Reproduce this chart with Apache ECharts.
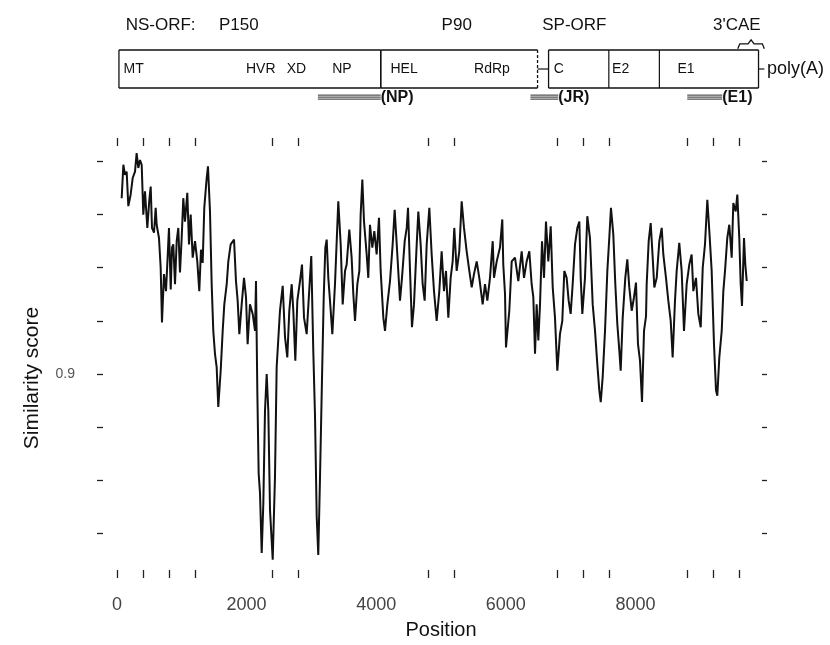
<!DOCTYPE html>
<html><head><meta charset="utf-8">
<script src="https://cdn.jsdelivr.net/npm/echarts@6/dist/echarts.min.js"></script>
<style>html,body{margin:0;padding:0;background:#fff}#c{width:830px;height:645px}</style>
</head><body><div id="c"></div>
<script>
// ---------- similarity plot data ----------
const positions = [72,98,123,149,175,211,242,278,303,329,355,381,406,432,468,499,520,540,571,597,612,648,674,694,725,756,776,802,829,849,869,895,921,946,972,998,1023,1049,1085,1111,1137,1168,1204,1239,1270,1296,1322,1347,1384,1404,1435,1461,1486,1512,1538,1563,1600,1631,1656,1693,1718,1754,1806,1836,1862,1888,1924,1960,1991,2016,2052,2094,2130,2145,2166,2186,2207,2233,2258,2284,2310,2335,2361,2403,2438,2464,2515,2557,2593,2628,2659,2696,2721,2752,2783,2824,2855,2886,2927,2963,2998,3029,3056,3082,3106,3133,3164,3190,3215,3236,
3261,3287,3323,3364,3415,3452,3483,3519,3544,3585,3621,3647,3673,3709,3740,3760,3786,3812,3853,3878,3904,3940,3971,4007,4043,4069,4110,4136,4172,4213,4254,4285,4326,4367,4398,4440,4471,4491,4522,4552,4583,4625,4650,4686,4717,4748,4779,4820,4856,4892,4933,4974,5010,5046,5077,5113,5149,5180,5205,5242,5282,5319,5355,5396,5437,5474,5509,5551,5591,5643,5679,5715,5756,5798,5818,5860,5910,5946,5961,5988,6003,6054,6091,6142,6193,6245,6281,6322,6363,6399,6425,6451,
6476,6502,6528,6559,6590,6620,6656,6693,6724,6759,6795,6836,6872,6903,6939,6970,7001,7032,7068,7104,7135,7156,7181,7222,7258,7299,7341,7377,7412,7443,7465,7495,7531,7567,7597,7623,7659,7690,7721,7752,7773,7804,7844,7875,7906,7943,7978,8009,8040,8071,8102,8133,8164,8174,8205,8236,8267,8292,8329,8369,8406,8431,8472,8508,8545,8575,8611,8637,8677,8714,8750,8791,8832,8868,8894,8935,8971,9008,9039,9074,9110,9141,9177,9213,9244,9264,9295,9332,9357,9383,9418,9449,9486,9511,9548,9573,9603,9625,9645,9676,9696,9718];
const scores = [.9331,.9394,.9375,.9381,.9316,.9338,.9369,.9381,.9416,.9388,.9403,.9394,.9300,.9344,.9275,.9328,.9353,.9275,.9266,.9313,.9281,.9256,.9200,.9097,.9188,.9156,.9206,.9275,.9159,.9238,.9244,.9169,.9250,.9275,.9191,.9256,.9331,.9287,.9341,.9244,.9300,.9219,.9250,.9212,.9156,.9234,.9209,.9313,.9369,.9391,.9306,.9169,.9081,.9038,.9013,.8938,.9006,.9081,.9131,.9169,.9212,.9244,.9253,.9175,.9138,.9075,.9131,.9181,.9144,.9056,.9131,.9113,.9081,.9175,.8963,.8813,.8775,.8663,.8756,.8931,.9000,.8931,.8744,.8650,.8806,.9013,.9119,.9166,.9069,.9031,.9119,.9169,.9119,.9025,.9138,.9175,.9206,.9106,.9075,.9150,.9222,.9044,.8919,.8731,.8659,.8806,.8994,.9144,.9238,.9253,
.9181,.9138,.9075,.9169,.9325,.9244,.9131,.9194,.9206,.9272,.9219,.9150,.9100,.9169,.9194,.9300,.9366,.9287,.9225,.9181,.9281,.9238,.9269,.9225,.9294,.9194,.9106,.9081,.9131,.9175,.9244,.9309,.9225,.9138,.9181,.9250,.9275,.9313,.9194,.9088,.9131,.9244,.9306,.9244,.9169,.9138,.9244,.9313,.9225,.9156,.9100,.9156,.9231,.9156,.9194,.9106,.9181,.9212,.9275,.9194,.9231,.9325,.9275,.9231,.9194,.9163,.9188,.9212,.9181,.9131,.9169,.9138,.9181,.9250,.9181,.9212,.9238,.9291,.9206,.9150,.9050,.9119,.9212,.9219,.9175,.9231,.9181,.9212,.9231,.9169,.9144,.9038,
.9131,.9063,.9131,.9250,.9181,.9287,.9212,.9278,.9163,.9106,.9006,.9075,.9100,.9194,.9181,.9138,.9113,.9169,.9244,.9275,.9287,.9181,.9113,.9181,.9297,.9256,.9131,.9081,.9019,.8969,.8947,.8994,.9081,.9194,.9256,.9313,.9263,.9169,.9094,.9044,.9006,.9106,.9181,.9216,.9163,.9119,.9144,.9172,.9056,.9025,.8947,.9081,.9109,.9169,.9250,.9284,.9219,.9163,.9181,.9250,.9275,.9225,.9181,.9138,.9100,.9031,.9138,.9194,.9247,.9194,.9081,.9169,.9206,.9225,.9156,.9181,.9113,.9088,.9200,.9244,.9328,.9269,.9194,.9056,.8969,.8959,.9031,.9081,.9156,.9194,.9256,.9281,.9219,.9322,.9306,.9338,.9256,.9169,.9128,.9256,.9206,.9175];
const rugTicks = [0,400,800,1200,2400,2800,4800,5200,6800,7200,7600,8800,9200,9600];
const xTickLabels = [0,2000,4000,6000,8000];
const yTicks = [0.87,0.88,0.89,0.90,0.91,0.92,0.93,0.94];
const yTickLabels = [0.9];

// ---------- genome map data (nucleotide positions) ----------
const orfBoxes = [[30,4070,0],[4070,6490,1],[6660,9900,0]]; // start, end, dashed right edge
const orfDividers = [7590,8370];
const connectors = [[6490,6660],[9900,9990]];
const headerNames = ['NS-ORF:','P150','P90','SP-ORF',"3'CAE"];
const headerStarts = [134,1574,5009,6562,9198];
const domainNames = ['MT','HVR','XD','NP','HEL','RdRp','C','E2','E1'];
const domainStarts = [100,1990,2620,3320,4220,5510,6740,7640,8650];
const epitopeNames = ['(NP)','(JR)','(E1)'];
const epitopeRanges = [[3100,4070],[6380,6810],[8800,9340]];
const caeRange = [9580,9990];
const polyA = ['poly(A)'];
const polyAStart = [10030];

const FONT = '"Liberation Sans", Arial, sans-serif';
const chart = echarts.init(document.getElementById('c'), null, {renderer:'canvas'});

function txt(x, y, text, size, weight, align, valign){
  return {type:'text', style:{x, y, text, fill:'#111', font:(weight||'normal')+' '+size+'px '+FONT, textAlign:align||'left', textVerticalAlign:valign||'middle'}};
}
const gm = {xAxisIndex:2, yAxisIndex:2, type:'custom', coordinateSystem:'cartesian2d', clip:false, silent:true, animation:false};

chart.setOption({
  animation:false,
  grid:[
    {left:117, right:65, top:138, bottom:65},
    {left:117, right:65, top:50, height:38}
  ],
  xAxis:[
    {gridIndex:0, type:'value', min:0, max:10000, position:'bottom',
     axisLine:{show:false, onZero:false}, splitLine:{show:false},
     axisTick:{show:true, inside:true, length:8, customValues:rugTicks, lineStyle:{color:'#222', width:1.3}},
     axisLabel:{customValues:xTickLabels, margin:18, color:'#444', fontSize:18, fontFamily:FONT, formatter:v=>String(v)},
     name:'Position', nameLocation:'middle', nameGap:42, nameTextStyle:{color:'#111', fontSize:20, fontFamily:FONT}},
    {gridIndex:0, type:'value', min:0, max:10000, position:'top',
     axisLine:{show:false, onZero:false}, splitLine:{show:false},
     axisTick:{show:true, inside:true, length:8, customValues:rugTicks, lineStyle:{color:'#222', width:1.3}},
     axisLabel:{show:false}},
    {gridIndex:1, type:'value', min:0, max:10000, show:false}
  ],
  yAxis:[
    {gridIndex:0, type:'value', min:0.8615625, max:0.9444375, position:'left', offset:14,
     axisLine:{show:false, onZero:false}, splitLine:{show:false},
     axisTick:{show:true, length:6, customValues:yTicks, lineStyle:{color:'#222', width:1.3}},
     axisLabel:{customValues:yTickLabels, margin:28, color:'#555', fontSize:14, fontFamily:FONT, formatter:v=>v.toFixed(1)},
     name:'Similarity score', nameLocation:'middle', nameGap:60, nameRotate:90,
     nameTextStyle:{color:'#111', fontSize:21, fontFamily:FONT, padding:[0,40,0,0]}},
    {gridIndex:0, type:'value', min:0.8615625, max:0.9444375, position:'right', offset:2,
     axisLine:{show:false, onZero:false}, splitLine:{show:false},
     axisTick:{show:true, inside:true, length:5, customValues:yTicks, lineStyle:{color:'#222', width:1.3}},
     axisLabel:{show:false}},
    {gridIndex:1, type:'value', min:0, max:1, show:false}
  ],
  series:[
    {type:'line', xAxisIndex:0, yAxisIndex:0, data:positions.map((p,i)=>[p,scores[i]]),
     showSymbol:false, symbol:'none', lineStyle:{color:'#111', width:2}, silent:true},
    // ORF boxes
    Object.assign({}, gm, {data:orfBoxes, renderItem:(params, api)=>{
      const tl = api.coord([api.value(0),1]), br = api.coord([api.value(1),0]);
      const st = {stroke:'#111', lineWidth:1.3};
      const ln=(x1,y1,x2,y2,ex)=>({type:'line', shape:{x1,y1,x2,y2}, style:Object.assign({},st,ex||{})});
      return {type:'group', children:[
        ln(tl[0],tl[1],br[0],tl[1]), ln(tl[0],br[1],br[0],br[1]), ln(tl[0],tl[1],tl[0],br[1]),
        ln(br[0],tl[1],br[0],br[1], api.value(2)?{lineDash:[3,2]}:null)]};
    }}),
    // dividers
    Object.assign({}, gm, {data:orfDividers.map(v=>[v,0]), renderItem:(params, api)=>{
      const a = api.coord([api.value(0),1]), b = api.coord([api.value(0),0]);
      return {type:'line', shape:{x1:a[0],y1:a[1],x2:b[0],y2:b[1]}, style:{stroke:'#111', lineWidth:1.2}};
    }}),
    // connectors
    Object.assign({}, gm, {data:connectors, renderItem:(params, api)=>{
      const a = api.coord([api.value(0),0.5]), b = api.coord([api.value(1),0.5]);
      return {type:'line', shape:{x1:a[0],y1:a[1],x2:b[0],y2:b[1]}, style:{stroke:'#111', lineWidth:1.2}};
    }}),
    // header labels
    Object.assign({}, gm, {data:headerStarts.map((v,i)=>[v,i]), renderItem:(params, api)=>{
      const p = api.coord([api.value(0),1.66]);
      return txt(p[0], p[1], headerNames[params.dataIndex], 17);
    }}),
    // domain labels
    Object.assign({}, gm, {data:domainStarts.map((v,i)=>[v,i]), renderItem:(params, api)=>{
      const p = api.coord([api.value(0),0.5]);
      return txt(p[0], p[1], domainNames[params.dataIndex], 14);
    }}),
    // epitope regions
    Object.assign({}, gm, {data:epitopeRanges, renderItem:(params, api)=>{
      const a = api.coord([api.value(0),-0.24]), b = api.coord([api.value(1),-0.24]);
      const kids = [-2,0,2].map(d=>({type:'line', shape:{x1:a[0],y1:a[1]+d,x2:b[0],y2:b[1]+d}, style:{stroke:'#111', lineWidth:0.9}}));
      kids.push(txt(b[0], a[1], epitopeNames[params.dataIndex], 16, 'bold'));
      return {type:'group', children:kids};
    }}),
    // 3'CAE brace
    Object.assign({}, gm, {data:[caeRange], renderItem:(params, api)=>{
      const a = api.coord([api.value(0),1.03]), b = api.coord([api.value(1),1.03]);
      const y = a[1]-5, m = (a[0]+b[0])/2;
      return {type:'polyline', shape:{points:[[a[0],a[1]],[a[0]+2,y],[m-3,y],[m,y-4],[m+3,y],[b[0]-2,y],[b[0],a[1]]]}, style:{stroke:'#111', fill:null, lineWidth:1.3}};
    }}),
    // poly(A)
    Object.assign({}, gm, {data:polyAStart.map((v,i)=>[v,i]), renderItem:(params, api)=>{
      const p = api.coord([api.value(0),0.5]);
      return txt(p[0], p[1], polyA[params.dataIndex], 18);
    }})
  ]
});
</script></body></html>
